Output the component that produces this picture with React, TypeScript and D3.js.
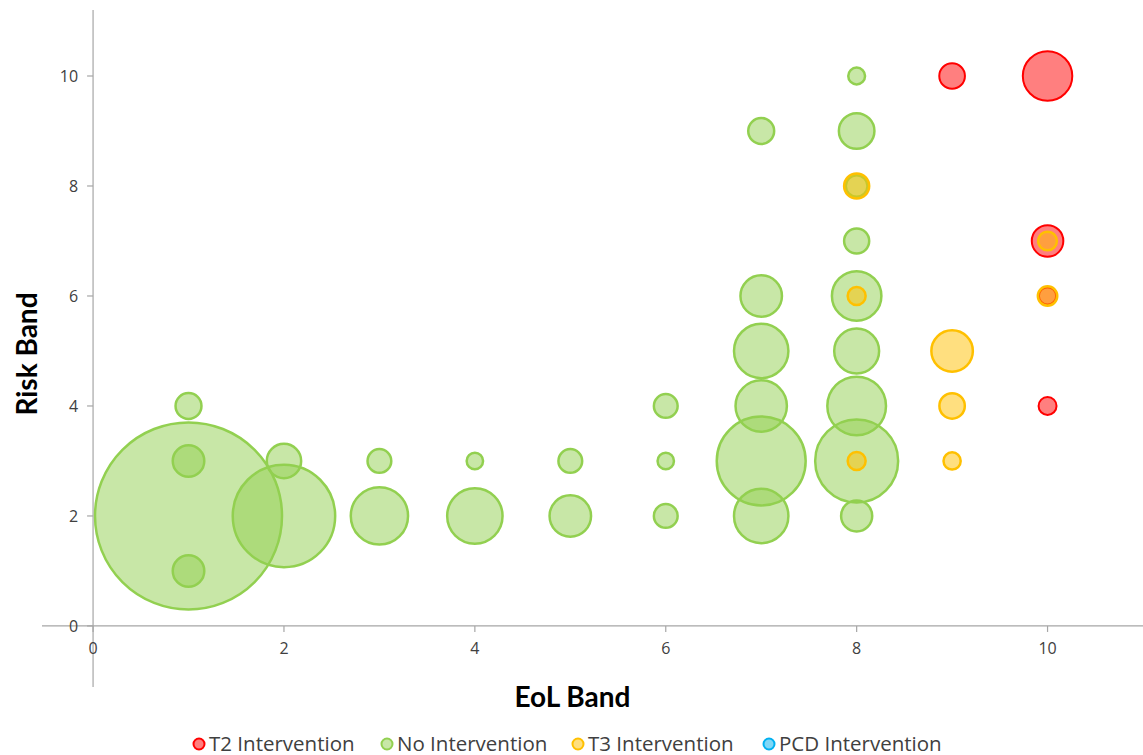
import React from "react";
import * as d3 from "d3";

type Bubble = { x: number; y: number; size: number };

// EoL band (x), Risk band (y), bubble size
const t2Intervention: Bubble[] = [
  { x: 9, y: 10, size: 2.45 },
  { x: 10, y: 10, size: 9.1 },
  { x: 10, y: 7, size: 3.7 },
  { x: 10, y: 6, size: 1.1 },
  { x: 10, y: 4, size: 1.2 },
];

const noIntervention: Bubble[] = [
  { x: 1, y: 2, size: 130 },
  { x: 1, y: 4, size: 2.5 },
  { x: 1, y: 3, size: 3.7 },
  { x: 1, y: 1, size: 3.7 },
  { x: 2, y: 2, size: 39 },
  { x: 2, y: 3, size: 4.4 },
  { x: 3, y: 3, size: 2.1 },
  { x: 3, y: 2, size: 12.2 },
  { x: 4, y: 3, size: 1 },
  { x: 4, y: 2, size: 11.4 },
  { x: 5, y: 3, size: 2.1 },
  { x: 5, y: 2, size: 6.4 },
  { x: 6, y: 4, size: 2.1 },
  { x: 6, y: 3, size: 1 },
  { x: 6, y: 2, size: 2.1 },
  { x: 7, y: 9, size: 2.5 },
  { x: 7, y: 6, size: 6.4 },
  { x: 7, y: 5, size: 11 },
  { x: 7, y: 4, size: 9.8 },
  { x: 7, y: 3, size: 29.4 },
  { x: 7, y: 2, size: 11 },
  { x: 8, y: 10, size: 1.05 },
  { x: 8, y: 9, size: 4.7 },
  { x: 8, y: 8, size: 1.75 },
  { x: 8, y: 7, size: 2.34 },
  { x: 8, y: 6, size: 9.1 },
  { x: 8, y: 5, size: 7.5 },
  { x: 8, y: 4, size: 12.8 },
  { x: 8, y: 3, size: 25.6 },
  { x: 8, y: 2, size: 3.6 },
];

const t3Intervention: Bubble[] = [
  { x: 8, y: 8, size: 2.34 },
  { x: 8, y: 6, size: 1.2 },
  { x: 8, y: 3, size: 1.2 },
  { x: 9, y: 5, size: 6.4 },
  { x: 9, y: 4, size: 2.4 },
  { x: 9, y: 3, size: 1.1 },
  { x: 10, y: 7, size: 1.3 },
  { x: 10, y: 6, size: 1.4 },
];

const pcdIntervention: Bubble[] = [];

const seriesNames = ["T2 Intervention", "No Intervention", "T3 Intervention", "PCD Intervention"];
const seriesColors = ["#FF0000", "#92D050", "#FFC000", "#00B0F0"];
const seriesData = [t2Intervention, noIntervention, t3Intervention, pcdIntervention];

const xTicks = [0, 2, 4, 6, 8, 10];
const yTicks = [0, 2, 4, 6, 8, 10];

const W = 1143;
const H = 755;

export default function App() {
  const x = d3.scaleLinear().domain([-0.535, 11]).range([42, 1143]);
  const y = d3.scaleLinear().domain([-1.11, 11.2]).range([687, 10]);
  const r = d3.scaleSqrt().domain([0, 1]).range([0, 8.2]);

  const axisColor = "#a6a6a6";
  const labelColor = "#404040";
  const bodyFont = "'Open Sans', sans-serif";
  const titleFont = "Lato, sans-serif";

  const legendX = [199, 387, 578, 769];

  return (
    <svg
      width={W}
      height={H}
      style={{ position: "absolute", left: 0, top: 0, background: "#fff" }}
      fontFamily={bodyFont}
    >
      {/* axes */}
      <line x1={x(-0.535)} x2={x(11)} y1={y(0)} y2={y(0)} stroke={axisColor} strokeWidth={1.2} />
      <line x1={x(0)} x2={x(0)} y1={y(11.2)} y2={y(-1.11)} stroke={axisColor} strokeWidth={1.2} />
      {xTicks.map((t) => (
        <g key={"xt" + t}>
          <line x1={x(t)} x2={x(t)} y1={y(0)} y2={y(0) + 6} stroke={axisColor} strokeWidth={1.2} />
          <text x={x(t)} y={y(0) + 28} textAnchor="middle" fontSize={16} fill={labelColor}>
            {t}
          </text>
        </g>
      ))}
      {yTicks.map((t) => (
        <g key={"yt" + t}>
          <line x1={x(0) - 6} x2={x(0)} y1={y(t)} y2={y(t)} stroke={axisColor} strokeWidth={1.2} />
          <text x={x(0) - 15} y={y(t) + 6} textAnchor="end" fontSize={16} fill={labelColor}>
            {t}
          </text>
        </g>
      ))}

      {/* bubbles */}
      {seriesData.map((data, si) => (
        <g key={"s" + si}>
          {data.map((d, i) => (
            <circle
              key={i}
              cx={x(d.x)}
              cy={y(d.y)}
              r={r(d.size)}
              fill={seriesColors[si]}
              fillOpacity={0.5}
              stroke={seriesColors[si]}
              strokeWidth={si === 0 ? 2 : 2.5}
            />
          ))}
        </g>
      ))}

      {/* axis titles */}
      <text
        x={572.5}
        y={707}
        textAnchor="middle"
        fontSize={28}
        fontWeight="bold"
        fill="#000"
        fontFamily={titleFont}
      >
        EoL Band
      </text>
      <text
        transform={`translate(37,354) rotate(-90)`}
        textAnchor="middle"
        fontSize={28}
        fontWeight="bold"
        fill="#000"
        fontFamily={titleFont}
      >
        Risk Band
      </text>

      {/* legend */}
      {seriesNames.map((name, i) => (
        <g key={"lg" + i}>
          <circle
            cx={legendX[i]}
            cy={744}
            r={5.5}
            fill={seriesColors[i]}
            fillOpacity={0.5}
            stroke={seriesColors[i]}
            strokeWidth={2}
          />
          <text x={legendX[i] + 10} y={750.5} fontSize={20.5} fill={labelColor}>
            {name}
          </text>
        </g>
      ))}
    </svg>
  );
}
